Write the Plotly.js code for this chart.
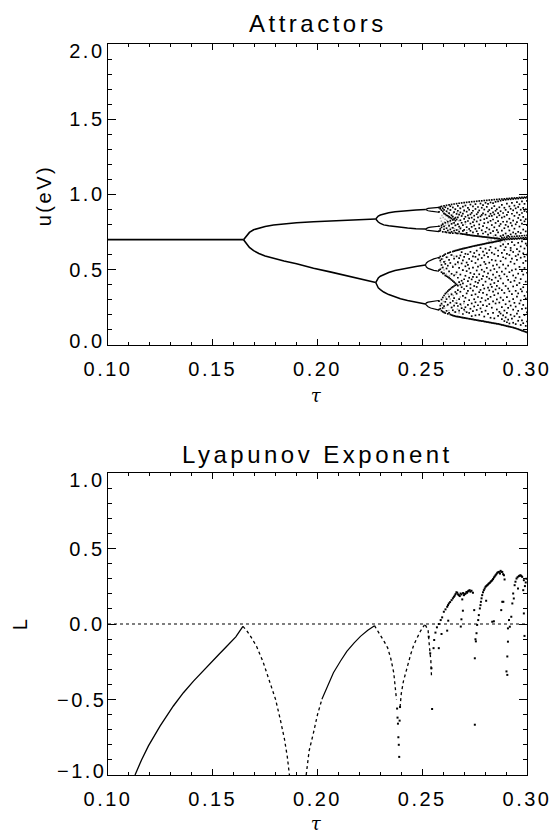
<!DOCTYPE html>
<html>
<head>
<meta charset="utf-8">
<script src="https://cdn.plot.ly/plotly-3.0.1.min.js"></script>
<style>
  html, body { margin: 0; padding: 0; background: #fff; }
  #chart { width: 552px; height: 835px; }
  /* wide, even spacing like plotter-style vector lettering */
  #chart svg text { letter-spacing: 2.5px; }
</style>
</head>
<body>
<div id="chart"></div>
<script>
// ---- axis ticks ----
const tauTicks = [0.10, 0.15, 0.20, 0.25, 0.30];
const tauTickText = ['0.10', '0.15', '0.20', '0.25', '0.30'];
const uTicks = [0, 0.5, 1.0, 1.5, 2.0];
const uTickText = ['0.0', '0.5', '1.0', '1.5', '2.0'];
const lTicks = [-1.0, -0.5, 0, 0.5, 1.0];
const lTickText = ['\u22121.0', '\u22120.5', '0.0', '0.5', '1.0'];

// ---- attractor: periodic branches (tau, u in eV) ----
const period1Tau = [0.100, 0.1647];
const period1U = [0.700, 0.700];

const period2Tau = [0.1647, 0.1655, 0.1663, 0.1675, 0.1695, 0.1720, 0.1750, 0.1790, 0.1840, 0.1900, 0.1981, 0.2060, 0.2140, 0.2210, 0.2278];
const period2UpperU = [0.700, 0.716, 0.731, 0.748, 0.766, 0.778, 0.788, 0.797, 0.805, 0.812, 0.819, 0.825, 0.830, 0.834, 0.837];
const period2LowerU = [0.700, 0.683, 0.667, 0.648, 0.627, 0.608, 0.592, 0.575, 0.558, 0.540, 0.510, 0.486, 0.460, 0.437, 0.415];

const period4Tau = [0.2278, 0.2283, 0.2290, 0.2300, 0.2316, 0.2340, 0.2370, 0.2396, 0.2430, 0.2470, 0.2515];
const period4U = [
  [0.837, 0.848, 0.857, 0.864, 0.872, 0.879, 0.885, 0.889, 0.893, 0.897, 0.900],
  [0.837, 0.826, 0.817, 0.808, 0.798, 0.792, 0.786, 0.782, 0.777, 0.773, 0.770],
  [0.415, 0.432, 0.445, 0.457, 0.468, 0.482, 0.495, 0.503, 0.513, 0.522, 0.531],
  [0.415, 0.395, 0.380, 0.368, 0.352, 0.335, 0.318, 0.307, 0.295, 0.283, 0.272]
];

const period8Tau = [0.2515, 0.2520, 0.2528, 0.2540, 0.2555, 0.2570, 0.2580];
const period8U = [
  [0.900, 0.905, 0.908, 0.910, 0.912, 0.913, 0.914],
  [0.900, 0.895, 0.892, 0.889, 0.886, 0.884, 0.882],
  [0.770, 0.776, 0.780, 0.783, 0.786, 0.788, 0.789],
  [0.770, 0.764, 0.761, 0.758, 0.756, 0.754, 0.753],
  [0.531, 0.545, 0.555, 0.564, 0.572, 0.578, 0.582],
  [0.531, 0.518, 0.509, 0.502, 0.496, 0.492, 0.490],
  [0.272, 0.280, 0.285, 0.289, 0.292, 0.294, 0.295],
  [0.272, 0.262, 0.254, 0.246, 0.240, 0.235, 0.232]
];

// ---- attractor: chaotic iterates, one column of u values per tau ----
const chaosTau = [
  0.2580, 0.2586, 0.2592, 0.2598, 0.2604, 0.2610, 0.2616, 0.2622, 0.2628, 0.2634,
  0.2640, 0.2646, 0.2652, 0.2658, 0.2664, 0.2670, 0.2676, 0.2682, 0.2688, 0.2694,
  0.2700, 0.2706, 0.2712, 0.2718, 0.2724, 0.2730, 0.2736, 0.2742, 0.2748, 0.2754,
  0.2760, 0.2766, 0.2772, 0.2778, 0.2784, 0.2790, 0.2796, 0.2802, 0.2808, 0.2814,
  0.2820, 0.2826, 0.2832, 0.2838, 0.2844, 0.2850, 0.2856, 0.2862, 0.2868, 0.2874,
  0.2880, 0.2886, 0.2892, 0.2898, 0.2904, 0.2910, 0.2916, 0.2922, 0.2928, 0.2934,
  0.2940, 0.2946, 0.2952, 0.2958, 0.2964, 0.2970, 0.2976, 0.2982, 0.2988, 0.2994,
  0.3000
];
const chaosU = [
  [0.913, 0.884, 0.789, 0.756, 0.579, 0.497, 0.292, 0.236],
  [0.905, 0.917, 0.771, 0.760, 0.561, 0.503, 0.588, 0.262, 0.241],
  [0.896, 0.921, 0.782, 0.795, 0.532, 0.484, 0.571, 0.302, 0.228, 0.275],
  [0.887, 0.909, 0.752, 0.803, 0.591, 0.475, 0.515, 0.246, 0.316, 0.221],
  [0.924, 0.874, 0.898, 0.769, 0.788, 0.552, 0.597, 0.476, 0.329, 0.258, 0.217],
  [0.869, 0.915, 0.751, 0.812, 0.604, 0.462, 0.539, 0.287, 0.212, 0.341],
  [0.928, 0.889, 0.862, 0.776, 0.748, 0.583, 0.457, 0.508, 0.227, 0.349, 0.305],
  [0.906, 0.858, 0.819, 0.761, 0.610, 0.527, 0.452, 0.268, 0.207, 0.358],
  [0.931, 0.876, 0.851, 0.793, 0.747, 0.566, 0.613, 0.446, 0.489, 0.214, 0.322, 0.366],
  [0.897, 0.846, 0.922, 0.826, 0.768, 0.744, 0.617, 0.440, 0.545, 0.203, 0.281, 0.372],
  [0.934, 0.862, 0.840, 0.805, 0.752, 0.598, 0.432, 0.473, 0.199, 0.249, 0.381, 0.336],
  [0.914, 0.853, 0.831, 0.779, 0.743, 0.621, 0.518, 0.425, 0.196, 0.386, 0.293, 0.231],
  [0.937, 0.883, 0.838, 0.812, 0.759, 0.574, 0.624, 0.418, 0.462, 0.194, 0.392, 0.311, 0.262],
  [0.902, 0.845, 0.826, 0.746, 0.795, 0.627, 0.536, 0.410, 0.191, 0.397, 0.352, 0.219],
  [0.939, 0.871, 0.834, 0.764, 0.742, 0.589, 0.483, 0.402, 0.189, 0.278, 0.341, 0.629],
  [0.925, 0.848, 0.803, 0.741, 0.892, 0.631, 0.447, 0.551, 0.188, 0.364, 0.259, 0.395],
  [0.942, 0.866, 0.787, 0.753, 0.634, 0.512, 0.418, 0.187, 0.305, 0.229, 0.577],
  [0.908, 0.829, 0.740, 0.774, 0.881, 0.636, 0.468, 0.354, 0.185, 0.595, 0.271, 0.401],
  [0.944, 0.857, 0.812, 0.739, 0.638, 0.542, 0.384, 0.183, 0.245, 0.427, 0.617],
  [0.919, 0.873, 0.796, 0.758, 0.737, 0.640, 0.498, 0.327, 0.182, 0.206, 0.562, 0.409],
  [0.946, 0.838, 0.765, 0.736, 0.895, 0.642, 0.586, 0.437, 0.180, 0.289, 0.372, 0.235],
  [0.927, 0.852, 0.818, 0.735, 0.644, 0.523, 0.460, 0.179, 0.314, 0.606, 0.251],
  [0.948, 0.886, 0.783, 0.745, 0.733, 0.646, 0.548, 0.391, 0.177, 0.218, 0.343, 0.491],
  [0.911, 0.861, 0.824, 0.732, 0.648, 0.603, 0.424, 0.176, 0.267, 0.359, 0.532],
  [0.950, 0.899, 0.842, 0.771, 0.731, 0.650, 0.508, 0.447, 0.174, 0.298, 0.213, 0.572],
  [0.933, 0.868, 0.807, 0.729, 0.759, 0.652, 0.619, 0.377, 0.173, 0.241, 0.479, 0.403],
  [0.952, 0.878, 0.846, 0.728, 0.785, 0.654, 0.557, 0.331, 0.171, 0.276, 0.436, 0.192],
  [0.921, 0.892, 0.817, 0.727, 0.749, 0.656, 0.589, 0.514, 0.170, 0.225, 0.361, 0.452],
  [0.953, 0.859, 0.833, 0.726, 0.794, 0.658, 0.471, 0.168, 0.304, 0.392, 0.611, 0.256],
  [0.936, 0.904, 0.772, 0.725, 0.660, 0.545, 0.420, 0.167, 0.197, 0.337, 0.586, 0.284],
  [0.955, 0.869, 0.821, 0.724, 0.756, 0.661, 0.627, 0.495, 0.165, 0.233, 0.386, 0.451],
  [0.917, 0.881, 0.848, 0.723, 0.739, 0.663, 0.569, 0.413, 0.164, 0.264, 0.319, 0.521],
  [0.957, 0.894, 0.801, 0.722, 0.777, 0.665, 0.600, 0.470, 0.162, 0.201, 0.351, 0.429],
  [0.940, 0.855, 0.829, 0.721, 0.667, 0.530, 0.366, 0.161, 0.287, 0.644, 0.243],
  [0.958, 0.912, 0.864, 0.720, 0.762, 0.668, 0.578, 0.439, 0.159, 0.220, 0.312, 0.500],
  [0.929, 0.874, 0.790, 0.719, 0.741, 0.670, 0.621, 0.398, 0.158, 0.265, 0.458, 0.347],
  [0.960, 0.900, 0.836, 0.718, 0.810, 0.672, 0.552, 0.487, 0.156, 0.189, 0.375, 0.596],
  [0.945, 0.866, 0.752, 0.717, 0.674, 0.640, 0.421, 0.155, 0.296, 0.538, 0.228],
  [0.961, 0.918, 0.843, 0.716, 0.779, 0.676, 0.512, 0.453, 0.153, 0.334, 0.258, 0.610],
  [0.938, 0.887, 0.815, 0.715, 0.733, 0.677, 0.585, 0.381, 0.152, 0.207, 0.476, 0.306],
  [0.963, 0.897, 0.856, 0.714, 0.768, 0.679, 0.631, 0.441, 0.150, 0.272, 0.363, 0.547],
  [0.947, 0.872, 0.825, 0.713, 0.744, 0.681, 0.496, 0.403, 0.149, 0.181, 0.320, 0.652],
  [0.964, 0.909, 0.858, 0.712, 0.797, 0.682, 0.566, 0.433, 0.147, 0.248, 0.386, 0.613],
  [0.943, 0.881, 0.834, 0.711, 0.757, 0.684, 0.527, 0.355, 0.146, 0.213, 0.467, 0.290],
  [0.966, 0.923, 0.868, 0.710, 0.782, 0.686, 0.603, 0.412, 0.144, 0.177, 0.331, 0.505],
  [0.951, 0.892, 0.811, 0.709, 0.730, 0.687, 0.643, 0.448, 0.143, 0.276, 0.369, 0.561],
  [0.967, 0.902, 0.849, 0.708, 0.764, 0.689, 0.534, 0.393, 0.141, 0.236, 0.485, 0.303],
  [0.954, 0.876, 0.823, 0.707, 0.748, 0.690, 0.592, 0.425, 0.140, 0.194, 0.343, 0.628],
  [0.969, 0.915, 0.862, 0.706, 0.791, 0.692, 0.515, 0.460, 0.138, 0.282, 0.377, 0.220],
  [0.959, 0.889, 0.804, 0.724, 0.701, 0.694, 0.658, 0.557, 0.442, 0.315, 0.136, 0.209],
  [0.970, 0.931, 0.846, 0.760, 0.712, 0.697, 0.612, 0.487, 0.364, 0.251, 0.134, 0.172],
  [0.962, 0.877, 0.819, 0.730, 0.703, 0.668, 0.534, 0.409, 0.298, 0.132, 0.197, 0.583],
  [0.971, 0.912, 0.853, 0.776, 0.715, 0.699, 0.631, 0.470, 0.346, 0.229, 0.130, 0.159],
  [0.965, 0.898, 0.798, 0.741, 0.705, 0.650, 0.575, 0.392, 0.271, 0.128, 0.184, 0.508],
  [0.973, 0.940, 0.864, 0.820, 0.717, 0.701, 0.606, 0.455, 0.318, 0.126, 0.213, 0.151],
  [0.967, 0.883, 0.786, 0.726, 0.706, 0.672, 0.528, 0.374, 0.247, 0.124, 0.168, 0.433],
  [0.974, 0.921, 0.839, 0.761, 0.718, 0.702, 0.598, 0.484, 0.290, 0.122, 0.143, 0.357],
  [0.968, 0.905, 0.811, 0.735, 0.707, 0.645, 0.553, 0.418, 0.201, 0.120, 0.262, 0.629],
  [0.976, 0.944, 0.872, 0.793, 0.720, 0.703, 0.683, 0.496, 0.338, 0.118, 0.175, 0.574],
  [0.970, 0.895, 0.827, 0.748, 0.708, 0.618, 0.462, 0.389, 0.235, 0.116, 0.148, 0.305],
  [0.977, 0.926, 0.858, 0.773, 0.721, 0.704, 0.664, 0.540, 0.427, 0.113, 0.191, 0.280],
  [0.972, 0.908, 0.802, 0.739, 0.709, 0.591, 0.503, 0.360, 0.255, 0.111, 0.139, 0.447],
  [0.978, 0.949, 0.880, 0.817, 0.723, 0.705, 0.637, 0.566, 0.398, 0.108, 0.208, 0.322],
  [0.973, 0.917, 0.844, 0.752, 0.710, 0.679, 0.474, 0.343, 0.227, 0.105, 0.161, 0.601],
  [0.980, 0.935, 0.865, 0.787, 0.724, 0.706, 0.622, 0.519, 0.412, 0.102, 0.186, 0.276],
  [0.975, 0.899, 0.830, 0.744, 0.711, 0.655, 0.580, 0.438, 0.296, 0.099, 0.133, 0.371],
  [0.981, 0.954, 0.877, 0.806, 0.726, 0.707, 0.688, 0.491, 0.356, 0.096, 0.240, 0.164],
  [0.976, 0.911, 0.851, 0.767, 0.712, 0.609, 0.545, 0.384, 0.266, 0.093, 0.145, 0.468],
  [0.982, 0.938, 0.890, 0.822, 0.727, 0.708, 0.641, 0.512, 0.327, 0.090, 0.199, 0.587],
  [0.978, 0.902, 0.836, 0.755, 0.713, 0.674, 0.559, 0.421, 0.244, 0.087, 0.127, 0.309],
  [0.984, 0.957, 0.884, 0.797, 0.728, 0.709, 0.662, 0.600, 0.480, 0.352, 0.217, 0.084, 0.156]
];

// faint, densely visited iterates inside the young sub-bands and where the bands meet
const hazePts = [
  [0.2587,0.842],[0.2591,0.823],[0.2594,0.861],[0.2597,0.809],[0.2600,0.848],[0.2603,0.872],[0.2606,0.817],[0.2609,0.836],[0.2612,0.795],[0.2614,0.858],
  [0.2617,0.828],[0.2620,0.881],[0.2623,0.806],[0.2625,0.845],[0.2628,0.788],[0.2631,0.867],[0.2633,0.819],[0.2636,0.898],[0.2639,0.779],[0.2642,0.852],
  [0.2645,0.811],[0.2648,0.876],[0.2651,0.832],[0.2654,0.772],[0.2657,0.903],[0.2660,0.851],[0.2663,0.798],[0.2667,0.884],[0.2671,0.766],[0.2675,0.825],
  [0.2679,0.910],[0.2684,0.781],[0.2689,0.862],[0.2694,0.757],[0.2700,0.889],[0.2706,0.803],[0.2713,0.763],[0.2720,0.846],
  [0.2588,0.548],[0.2592,0.512],[0.2595,0.266],[0.2598,0.571],[0.2601,0.289],[0.2604,0.498],[0.2607,0.245],[0.2610,0.556],[0.2612,0.318],[0.2615,0.471],
  [0.2618,0.262],[0.2621,0.583],[0.2624,0.337],[0.2627,0.229],[0.2630,0.459],[0.2633,0.305],[0.2636,0.598],[0.2639,0.342],[0.2642,0.251],[0.2645,0.527],
  [0.2648,0.329],[0.2651,0.589],[0.2654,0.219],[0.2657,0.281],[0.2660,0.468],[0.2664,0.296],[0.2668,0.238],[0.2672,0.541],[0.2676,0.213],[0.2681,0.319],
  [0.2686,0.262],[0.2692,0.497],[0.2698,0.275],[0.2704,0.224],
  [0.2812,0.701],[0.2818,0.688],[0.2824,0.713],[0.2829,0.696],[0.2835,0.679],[0.2840,0.724],[0.2846,0.703],[0.2851,0.691],[0.2857,0.716],[0.2862,0.698],
  [0.2868,0.707],[0.2873,0.684],[0.2879,0.719],[0.2884,0.695],[0.2890,0.710],[0.2896,0.688],[0.2902,0.727]
];

// ---- Lyapunov exponent L(tau) ----
const zeroTau = [0.10, 0.30];
const zeroL = [0, 0];

const lyapRiseATau = [0.1129, 0.1160, 0.1193, 0.1249, 0.1312, 0.1360, 0.1408, 0.1450, 0.1488, 0.1530, 0.1567, 0.1610, 0.1644];
const lyapRiseAL = [-1.0, -0.90, -0.807, -0.675, -0.543, -0.455, -0.378, -0.315, -0.257, -0.200, -0.147, -0.085, -0.016];
const lyapFallATau = [0.1644, 0.1660, 0.1680, 0.1709, 0.1740, 0.1774, 0.1800, 0.1822, 0.1842, 0.1856, 0.1866];
const lyapFallAL = [-0.016, -0.04, -0.08, -0.147, -0.25, -0.389, -0.50, -0.63, -0.76, -0.88, -1.0];
const lyapRiseBLowTau = [0.1946, 0.1960, 0.1981, 0.2000, 0.2021];
const lyapRiseBLowL = [-1.0, -0.84, -0.719, -0.60, -0.499];
const lyapRiseBTau = [0.2021, 0.2050, 0.2076, 0.2110, 0.2140, 0.2175, 0.2205, 0.2240, 0.2272];
const lyapRiseBL = [-0.499, -0.40, -0.323, -0.245, -0.181, -0.125, -0.082, -0.042, -0.011];
const lyapFallBTau = [0.2272, 0.2300, 0.2320, 0.2335, 0.2350, 0.2364, 0.2377];
const lyapFallBL = [-0.011, -0.07, -0.12, -0.158, -0.23, -0.323, -0.50];
const lyapRiseCTau = [0.2394, 0.2400, 0.2410, 0.2428, 0.2445, 0.2460, 0.2475, 0.2491, 0.2511];
const lyapRiseCL = [-0.55, -0.46, -0.38, -0.28, -0.20, -0.137, -0.09, -0.048, -0.005];
const lyapFallCTau = [0.2515, 0.2528, 0.2534, 0.2541, 0.2544];
const lyapFallCL = [-0.006, -0.044, -0.145, -0.242, -0.343];

const lyapPts = [
  [0.2380,-0.56],[0.2382,-0.62],[0.2384,-0.66],[0.2386,-0.75],[0.2388,-0.80],[0.2390,-0.88],[0.2392,-0.64],[0.2394,-0.55],
  [0.2531,-0.084],[0.2538,-0.194],[0.2544,-0.293],[0.2547,-0.563],[0.2554,-0.160],[0.2557,-0.106],[0.2563,-0.057],[0.2570,-0.022],[0.2579,0.0],[0.2579,-0.16],
  [0.2592,-0.066],[0.2588,0.026],[0.2595,0.044],[0.2603,0.081],[0.2611,0.097],[0.2619,0.114],[0.2623,0.125],[0.2627,0.136],[0.2633,0.145],[0.2640,0.158],
  [0.2646,0.170],[0.2651,0.180],[0.2655,0.188],[0.2659,0.198],[0.2663,0.210],[0.2667,0.207],[0.2671,0.196],[0.2675,0.191],[0.2679,0.185],[0.2683,0.202],
  [0.2687,0.196],[0.2695,0.205],[0.2699,0.191],[0.2703,0.198],[0.2707,0.202],[0.2711,0.212],[0.2714,0.207],[0.2718,0.216],[0.2722,0.220],[0.2726,0.224],
  [0.2730,0.214],[0.2735,0.220],[0.2742,0.207],[0.2691,0.163],[0.2694,0.088],[0.2687,0.031],[0.2684,-0.017],[0.2624,0.022],[0.2619,-0.044],[0.2748,0.092],
  [0.2762,-0.006],[0.2759,-0.061],[0.2754,-0.101],[0.2756,-0.115],[0.2751,-0.227],[0.2751,-0.667],[0.2767,0.026],[0.2770,0.059],[0.2775,0.103],[0.2778,0.125],
  [0.2780,0.147],[0.2783,0.170],[0.2786,0.191],[0.2790,0.210],[0.2794,0.224],[0.2798,0.235],[0.2802,0.246],[0.2806,0.252],[0.2810,0.257],[0.2814,0.262],
  [0.2818,0.268],[0.2822,0.272],[0.2826,0.279],[0.2830,0.285],[0.2834,0.290],[0.2838,0.298],[0.2842,0.308],[0.2846,0.315],[0.2850,0.323],[0.2854,0.330],
  [0.2858,0.339],[0.2862,0.342],[0.2866,0.345],[0.2871,0.334],[0.2874,0.352],[0.2878,0.345],[0.2882,0.345],[0.2886,0.330],[0.2890,0.323],[0.2893,0.295],
  [0.2805,0.154],[0.2834,0.015],[0.2842,0.018],[0.2882,0.147],[0.2887,0.147],[0.2877,0.092],[0.2914,0.026],[0.2909,-0.029],[0.2909,-0.117],[0.2906,-0.215],
  [0.2902,-0.314],[0.2906,-0.337],[0.2918,-0.018],[0.2925,0.048],[0.2930,0.136],[0.2934,0.202],[0.2937,0.169],[0.2941,0.257],[0.2945,0.280],[0.2950,0.301],
  [0.2955,0.310],[0.2957,0.235],[0.2961,0.317],[0.2965,0.320],[0.2969,0.323],[0.2973,0.318],[0.2977,0.312],[0.2982,0.224],[0.2985,0.29],[0.2985,0.07],
  [0.2988,-0.079],[0.2990,0.251],[0.2994,0.275],[0.2997,0.300]
];

// ---- build traces ----
const ink = '#000';
const traces = [];

function lineTrace(x, y, axes, width, dash) {
  return { x: x, y: y, xaxis: axes[0], yaxis: axes[1], type: 'scatter', mode: 'lines',
           line: { color: ink, width: width, dash: dash || 'solid' }, hoverinfo: 'skip', showlegend: false };
}
function dotTrace(xs, ys, axes, size, color) {
  return { x: xs, y: ys, xaxis: axes[0], yaxis: axes[1],
           type: 'scatter', mode: 'markers', marker: { color: color, size: size, symbol: 'square', line: { width: 0 } },
           hoverinfo: 'skip', showlegend: false };
}

const axAttr = ['x', 'y'];
const axLyap = ['x2', 'y2'];

traces.push(lineTrace(period1Tau, period1U, axAttr, 1.6));
traces.push(lineTrace(period2Tau, period2UpperU, axAttr, 1.6));
traces.push(lineTrace(period2Tau, period2LowerU, axAttr, 1.6));
period4U.forEach(u => traces.push(lineTrace(period4Tau, u, axAttr, 1.5)));
period8U.forEach(u => traces.push(lineTrace(period8Tau, u, axAttr, 1.2)));
traces.push(dotTrace(hazePts.map(p => p[0]), hazePts.map(p => p[1]), axAttr, 1.5, '#a8a8a8'));

// flatten the columns of chaotic iterates
const chaosX = [], chaosY = [];
chaosTau.forEach((t, i) => chaosU[i].forEach(u => { chaosX.push(t); chaosY.push(u); }));
traces.push(dotTrace(chaosX, chaosY, axAttr, 1.7, ink));

traces.push(lineTrace(zeroTau, zeroL, axLyap, 1.2, 'dot'));
traces.push(lineTrace(lyapRiseATau, lyapRiseAL, axLyap, 1.3));
traces.push(lineTrace(lyapFallATau, lyapFallAL, axLyap, 1.3, 'dot'));
traces.push(lineTrace(lyapRiseBLowTau, lyapRiseBLowL, axLyap, 1.3, 'dot'));
traces.push(lineTrace(lyapRiseBTau, lyapRiseBL, axLyap, 1.2));
traces.push(lineTrace(lyapFallBTau, lyapFallBL, axLyap, 1.3, 'dot'));
traces.push(lineTrace(lyapRiseCTau, lyapRiseCL, axLyap, 1.3, 'dot'));
traces.push(lineTrace(lyapFallCTau, lyapFallCL, axLyap, 1.3, 'dot'));
traces.push(dotTrace(lyapPts.map(p => p[0]), lyapPts.map(p => p[1]), axLyap, 2, ink));

// ---- layout ----
const W = 552, H = 835;
const xDom = [108 / W, 527 / W];
const xMid = (xDom[0] + xDom[1]) / 2;
const family = 'Liberation Sans, Arial, sans-serif';
const font = { family: family, size: 20, color: ink };

function xAxis(anchor) {
  return {
    domain: xDom, anchor: anchor, range: [0.10, 0.30],
    tickmode: 'array', tickvals: tauTicks, ticktext: tauTickText,
    ticks: 'inside', ticklen: 6, tickwidth: 1, tickcolor: ink,
    minor: { ticks: 'inside', ticklen: 3, tickwidth: 1, tickcolor: ink, tickmode: 'linear', tick0: 0.10, dtick: 0.01, showgrid: false },
    showline: true, linecolor: ink, linewidth: 1, mirror: 'allticks',
    showgrid: false, zeroline: false, tickfont: font, ticklabelstandoff: 6
  };
}
function yAxis(anchor, dom, range, vals) {
  return {
    domain: dom, anchor: anchor, range: range,
    tickmode: 'array', tickvals: vals, showticklabels: false,
    ticks: 'inside', ticklen: 8, tickwidth: 1, tickcolor: ink,
    minor: { ticks: 'inside', ticklen: 4, tickwidth: 1, tickcolor: ink, tickmode: 'linear', tick0: range[0], dtick: 0.1, showgrid: false },
    showline: true, linecolor: ink, linewidth: 1, mirror: 'allticks',
    showgrid: false, zeroline: false
  };
}

// y tick labels: the end labels sit just inside the frame
function yTickLabels(vals, texts, yref) {
  return vals.map((v, i) => ({
    text: texts[i], xref: 'paper', yref: yref, x: 103 / W, y: v,
    xanchor: 'right', yanchor: 'middle', showarrow: false, font: font,
    yshift: i === 0 ? 4 : (i === vals.length - 1 ? -7 : 0)
  }));
}
function label(text, xpx, ypx, opts) {
  return Object.assign({ text: text, xref: 'paper', yref: 'paper', x: xpx / W, y: 1 - ypx / H,
    xanchor: 'center', yanchor: 'middle', showarrow: false, font: font }, opts || {});
}
const titleFont = { family: family, size: 24, color: ink };
const tauFont = { family: 'DejaVu Serif, serif', size: 18, color: ink };

const layout = {
  width: W, height: H,
  margin: { l: 0, r: 0, t: 0, b: 0 },
  paper_bgcolor: '#fff', plot_bgcolor: '#fff',
  showlegend: false,
  xaxis: xAxis('y'),
  yaxis: yAxis('x', [1 - 345 / H, 1 - 44 / H], [0, 2], uTicks),
  xaxis2: xAxis('y2'),
  yaxis2: yAxis('x2', [1 - 775 / H, 1 - 473 / H], [-1, 1], lTicks),
  annotations: [
    label('<span style="letter-spacing:3.5px">Attractors</span>', xMid * W, 24, { font: titleFont }),
    label('<span style="letter-spacing:3.5px">Lyapunov Exponent</span>', xMid * W, 454, { font: titleFont }),
    label('u(eV)', 44, 195, { textangle: -90 }),
    label('L', 20, 624, { textangle: -90 }),
    label('<i>\u03c4</i>', xMid * W, 395, { font: tauFont }),
    label('<i>\u03c4</i>', xMid * W, 823, { font: tauFont })
  ].concat(yTickLabels(uTicks, uTickText, 'y'), yTickLabels(lTicks, lTickText, 'y2'))
};

Plotly.newPlot('chart', traces, layout, { staticPlot: true, displayModeBar: false });
</script>
</body>
</html>
